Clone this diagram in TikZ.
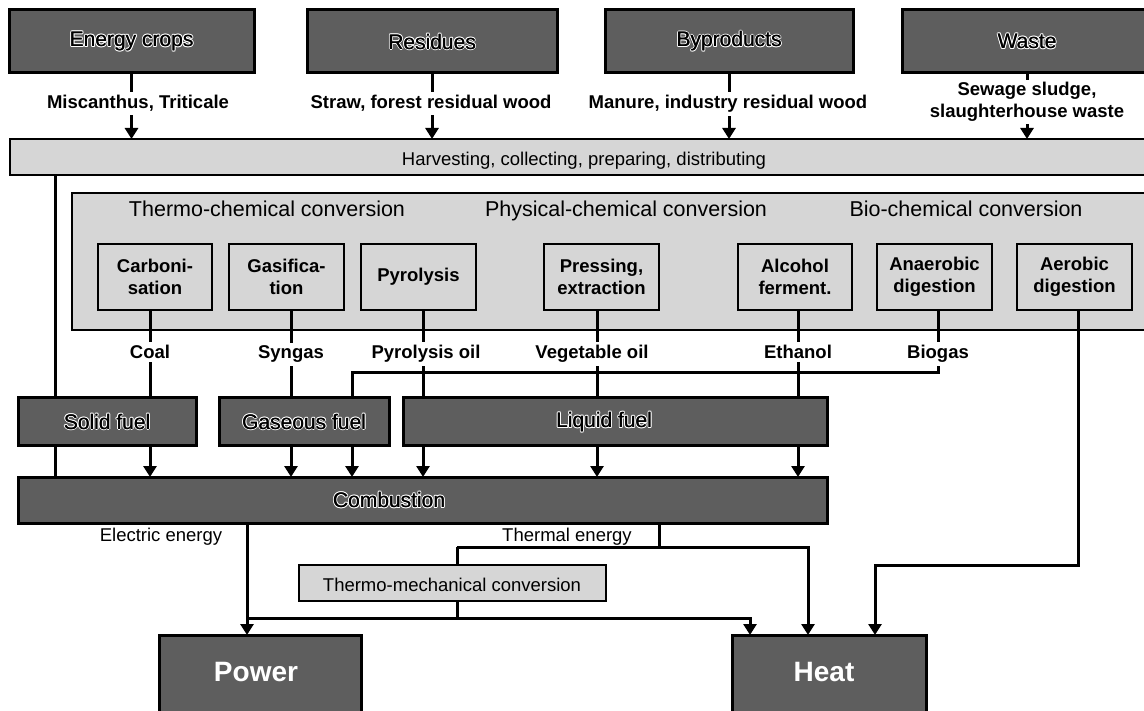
\documentclass[tikz,border=0pt]{standalone}
\usepackage{fontspec}
\setmainfont{Liberation Sans}
\usetikzlibrary{arrows.meta}
\newcommand\fsLab{\fontsize{18.5}{22}\selectfont}
\newcommand\fsTitle{\fontsize{21.5}{25}\selectfont}
\newcommand\fsBox{\fontsize{21}{25}\selectfont}
\newcommand\fsBig{\fontsize{28}{32}\selectfont}
\newcommand\hlcopy[4]{\rlap{\kern#1\raisebox{#2}{\textcolor{#3}{#4}}}}
\newcommand\hl[1]{\leavevmode
  \hlcopy{1.2pt}{0pt}{white}{#1}\hlcopy{-0.9pt}{0pt}{white}{#1}\hlcopy{0.15pt}{1pt}{white}{#1}\hlcopy{0.15pt}{-1pt}{white}{#1}%
  \hlcopy{0.9pt}{0.75pt}{white}{#1}\hlcopy{-0.6pt}{0.75pt}{white}{#1}\hlcopy{0.9pt}{-0.75pt}{white}{#1}\hlcopy{-0.6pt}{-0.75pt}{white}{#1}%
  \hlcopy{0.3pt}{0pt}{black}{#1}\textcolor{black}{#1}}
\tikzset{
  darkbox/.style={draw=black, line width=3pt, fill=black!63, inner sep=0pt, outer sep=0pt, anchor=north west, font=\fsBox},
  lightbox/.style={draw=black, line width=1.6pt, fill=black!16, inner sep=0pt, outer sep=0pt, anchor=north west},
  procbox/.style={lightbox, align=center, font=\fsLab\bfseries},
  lbl/.style={font=\fsLab\bfseries, inner sep=3pt},
  plain/.style={font=\fsLab, inner sep=2pt},
  ttl/.style={font=\fsTitle, inner sep=2pt},
  conn/.style={line width=3pt},
  arr/.style={conn, -{Triangle[length=11pt,width=13pt]}},
}
\begin{document}
\begin{tikzpicture}[x=1pt,y=-1pt]
\useasboundingbox (0,0) rectangle (1144,711);
\clip (0,0) rectangle (1144,711);
\fill[white] (0,0) rectangle (1144,711);

% source boxes
\node[darkbox, minimum width=245pt, minimum height=63pt] (ec) at (9,10) {\hl{Energy crops}};
\node[darkbox, minimum width=250pt, minimum height=63pt] (rs) at (307,10) {\hl{Residues}};
\node[darkbox, minimum width=248pt, minimum height=63pt] (bp) at (605,10) {\hl{Byproducts}};
\node[darkbox, minimum width=250pt, minimum height=63pt] (ws) at (902,10) {\hl{Waste}};

% harvesting
\node[lightbox, line width=2pt, minimum width=1145pt, minimum height=36pt] (hv) at (10,139) {};
\node[plain, anchor=base] (hvt) at (584,166) {Harvesting, collecting, preparing, distributing};

% conversion frame
\node[lightbox, minimum width=1083pt, minimum height=137pt] (cv) at (72,193) {};
\node[ttl, anchor=base] (t1) at (267,217) {Thermo-chemical conversion};
\node[ttl, anchor=base] (t2) at (626,217) {Physical-chemical conversion};
\node[ttl, anchor=base] (t3) at (966,217) {Bio-chemical conversion};

% process boxes
\node[procbox, minimum width=114pt, minimum height=66pt] (cbn) at (98,244) {Carboni-\\sation};
\node[procbox, minimum width=115pt, minimum height=66pt] (gs) at (229,244) {Gasifica-\\tion};
\node[procbox, minimum width=115pt, minimum height=66pt] (py) at (361,244) {Pyrolysis};
\node[procbox, minimum width=115pt, minimum height=66pt] (pr) at (544,244) {Pressing,\\extraction};
\node[procbox, minimum width=114pt, minimum height=66pt] (al) at (738,244) {Alcohol\\ferment.};
\node[procbox, minimum width=115pt, minimum height=66pt] (an) at (877,244) {Anaerobic\\digestion};
\node[procbox, minimum width=115pt, minimum height=66pt] (ae) at (1017,244) {Aerobic\\digestion};

% fuel boxes
\node[darkbox, minimum width=178pt, minimum height=47pt] (sf) at (18,398) {\hl{Solid fuel}};
\node[darkbox, minimum width=170pt, minimum height=47pt] (gf) at (219,398) {\hl{Gaseous fuel}};
\node[darkbox, minimum width=424pt, minimum height=47pt] (lf) at (403,398) {};
\node[font=\fsBox, inner sep=0pt] (lft) at (604,422) {\hl{Liquid fuel}};
\node[darkbox, minimum width=809pt, minimum height=46pt] (cb) at (18,477) {};
\node[font=\fsBox, inner sep=0pt] (cbt) at (389,500) {\hl{Combustion}};

% thermo-mechanical
\node[lightbox, minimum width=307pt, minimum height=36pt] (tm) at (299,565) {};
\node[plain, anchor=base] (tmt) at (452,591) {Thermo-mechanical conversion};

% outputs
\node[darkbox, minimum width=202pt, minimum height=90pt] (pw) at (159,635) {};
\node[font=\fsBig\bfseries, text=white, inner sep=0pt] (pwt) at (256,672) {Power};
\node[darkbox, minimum width=194pt, minimum height=90pt] (ht) at (732,635) {};
\node[font=\fsBig\bfseries, text=white, inner sep=0pt] (htt) at (824,672) {Heat};

% feedstock labels
\node[lbl, anchor=base] (l1) at (138,109) {Miscanthus, Triticale};
\node[lbl, anchor=base] (l2) at (431,109) {Straw, forest residual wood};
\node[lbl, anchor=base] (l3) at (728,109) {Manure, industry residual wood};
\node[lbl, align=center, inner sep=2pt] (l4) at (1027,102) {Sewage sludge,\\slaughterhouse waste};

% product labels
\node[lbl, anchor=base] (o1) at (150,359) {Coal};
\node[lbl, anchor=base] (o2) at (291,359) {Syngas};
\node[lbl, anchor=base] (o3) at (426,359) {Pyrolysis oil};
\node[lbl, anchor=base] (o4) at (592,359) {Vegetable oil};
\node[lbl, anchor=base] (o5) at (798,359) {Ethanol};
\node[lbl, anchor=base] (o6) at (938,359) {Biogas};

% energy labels
\node[plain, anchor=base] (ee) at (161,541) {Electric energy};
\node[plain, anchor=base] (te) at (567,541) {Thermal energy};

% helper coordinates
\coordinate (xl) at (55,0);
\coordinate (xa) at (150,0);
\coordinate (xb) at (291,0);
\coordinate (xc) at (423,0);
\coordinate (xd) at (597,0);
\coordinate (xf) at (798,0);
\coordinate (xg) at (938,0);
\coordinate (xk) at (1078,0);
\coordinate (xbg) at (352,0);
\coordinate (xw) at (1027,0);
\coordinate (ybg) at (0,373);
\coordinate (yae) at (0,565);
\coordinate (xhae) at (875,0);
\coordinate (xe) at (247,0);
\coordinate (xth) at (659,0);
\coordinate (yt) at (0,547);
\coordinate (xtm) at (457,0);
\coordinate (xh2) at (808,0);
\coordinate (ybot) at (0,618);
\coordinate (xh1) at (750,0);

% feedstock connectors
\draw[conn] (ec.south) -- (ec.south |- l1.north);
\draw[arr] (ec.south |- l1.south) -- (ec.south |- hv.north);
\draw[conn] (rs.south) -- (rs.south |- l2.north);
\draw[arr] (rs.south |- l2.south) -- (rs.south |- hv.north);
\draw[conn] (bp.south) -- (bp.south |- l3.north);
\draw[arr] (bp.south |- l3.south) -- (bp.south |- hv.north);
\draw[conn] (ws.south -| xw) -- (l4.north -| xw);
\draw[arr] (l4.south -| xw) -- (hv.north -| xw);

% left direct line
\draw[conn] (hv.south -| xl) -- (sf.north -| xl);
\draw[conn] (sf.south -| xl) -- (cb.north -| xl);

% process outputs
\draw[conn] (cbn.south -| xa) -- (o1.north -| xa);
\draw[conn] (o1.south -| xa) -- (sf.north -| xa);
\draw[conn] (gs.south -| xb) -- (o2.north -| xb);
\draw[conn] (o2.south -| xb) -- (gf.north -| xb);
\draw[conn] (py.south -| xc) -- (o3.north -| xc);
\draw[conn] (o3.south -| xc) -- (lf.north -| xc);
\draw[conn] (pr.south -| xd) -- (o4.north -| xd);
\draw[conn] (o4.south -| xd) -- (lf.north -| xd);
\draw[conn] (al.south -| xf) -- (o5.north -| xf);
\draw[conn] (o5.south -| xf) -- (lf.north -| xf);
\draw[conn] (an.south -| xg) -- (o6.north -| xg);
\draw[conn] (o6.south -| xg) |- (ybg -| xbg) -- (gf.north -| xbg);

% fuels to combustion
\draw[arr] (sf.south -| xa) -- (cb.north -| xa);
\draw[arr] (gf.south -| xb) -- (cb.north -| xb);
\draw[arr] (gf.south -| xbg) -- (cb.north -| xbg);
\draw[arr] (lf.south -| xc) -- (cb.north -| xc);
\draw[arr] (lf.south -| xd) -- (cb.north -| xd);
\draw[arr] (lf.south -| xf) -- (cb.north -| xf);

% aerobic to heat
\draw[arr] (ae.south -| xk) |- (yae -| xhae) -- (ht.north -| xhae);

% combustion outputs
\draw[arr] (cb.south -| xe) -- (pw.north -| xe);
\draw[conn] (cb.south -| xth) -- (yt -| xth);
\draw[arr] (yt -| xtm) -- (yt -| xh2) -- (ht.north -| xh2);
\draw[conn] (yt -| xtm) -- (tm.north -| xtm);
\draw[conn] (tm.south -| xtm) -- (ybot -| xtm);
\draw[arr] (ybot -| xe) -- (ybot -| xh1) -- (ht.north -| xh1);
\end{tikzpicture}
\end{document}
